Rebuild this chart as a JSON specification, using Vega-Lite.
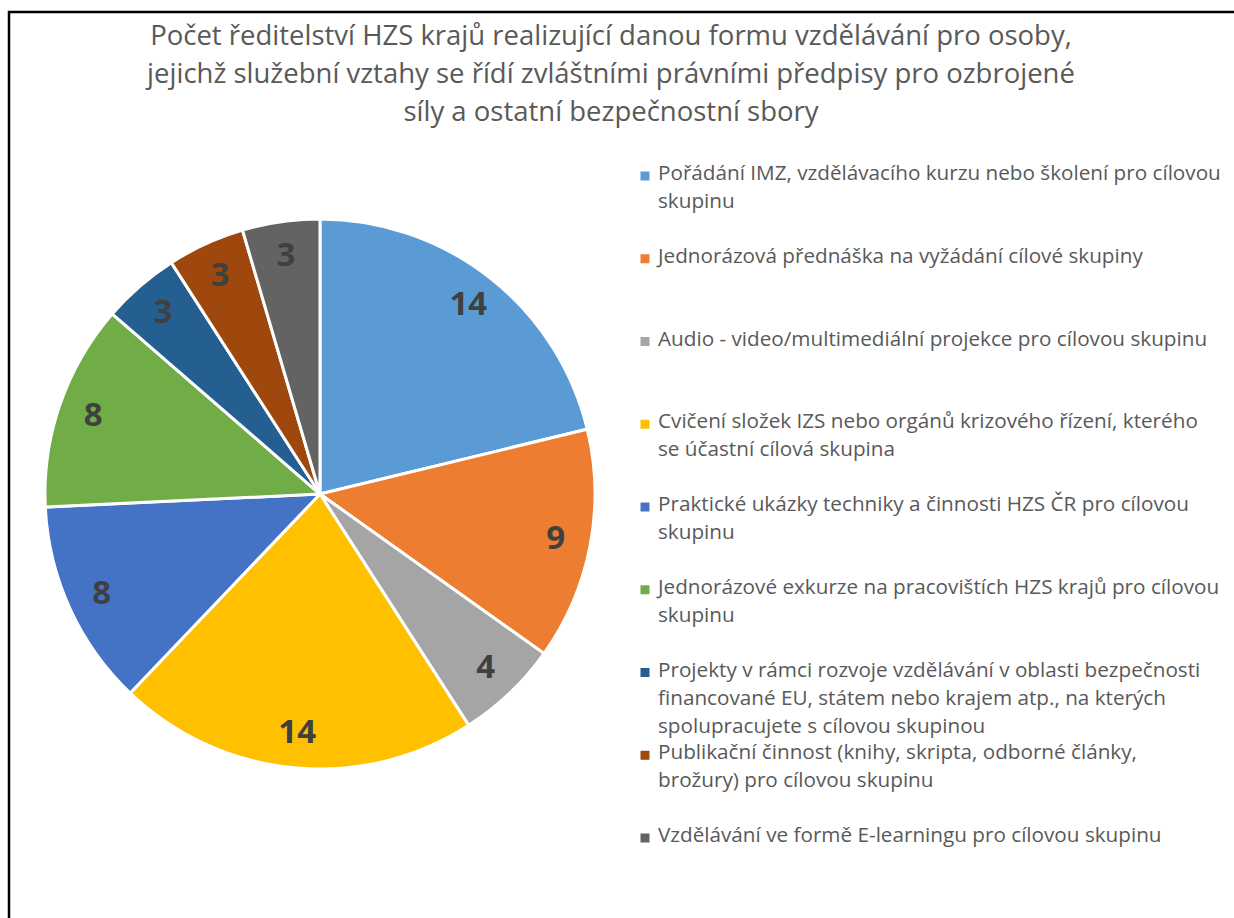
{
  "$schema": "https://vega.github.io/schema/vega-lite/v6.json",
  "width": 1240,
  "height": 910,
  "autosize": "none",
  "padding": {"left": 9, "top": 12, "right": 0, "bottom": 0},
  "background": "white",
  "config": {
    "view": {"stroke": "black", "strokeWidth": 2.5},
    "font": "Open Sans"
  },
  "title": {
    "text": [
      "Počet ředitelství HZS krajů realizující danou formu vzdělávání pro osoby,",
      "jejichž služební vztahy se řídí zvláštními právními předpisy pro ozbrojené",
      "síly a ostatní bezpečnostní sbory"
    ],
    "fontSize": 27.5,
    "fontWeight": "normal",
    "color": "#595959",
    "font": "Open Sans",
    "lineHeight": 38,
    "anchor": "middle",
    "dx": -18,
    "offset": -114
  },
  "data": {
    "values": [
      {"idx": 0, "value": 14, "label": "Pořádání IMZ, vzdělávacího kurzu nebo školení pro cílovou\nskupinu"},
      {"idx": 1, "value": 9, "label": "Jednorázová přednáška na vyžádání cílové skupiny"},
      {"idx": 2, "value": 4, "label": "Audio - video/multimediální projekce pro cílovou skupinu"},
      {"idx": 3, "value": 14, "label": "Cvičení složek IZS nebo orgánů krizového řízení, kterého\nse účastní cílová skupina"},
      {"idx": 4, "value": 8, "label": "Praktické ukázky techniky a činnosti HZS ČR pro cílovou\nskupinu"},
      {"idx": 5, "value": 8, "label": "Jednorázové exkurze na pracovištích HZS krajů pro cílovou\nskupinu"},
      {"idx": 6, "value": 3, "label": "Projekty v rámci rozvoje vzdělávání v oblasti bezpečnosti\nfinancované EU, státem nebo krajem atp., na kterých\nspolupracujete s cílovou skupinou"},
      {"idx": 7, "value": 3, "label": "Publikační činnost (knihy, skripta, odborné články,\nbrožury) pro cílovou skupinu"},
      {"idx": 8, "value": 3, "label": "Vzdělávání ve formě E-learningu pro cílovou skupinu"}
    ]
  },
  "layer": [
    {
      "mark": {"type": "arc", "outerRadius": 275, "stroke": "white", "strokeWidth": 3},
      "encoding": {
        "x": {"datum": 25.08, "type": "quantitative", "scale": {"domain": [0, 100], "nice": false, "zero": false}, "axis": null},
        "y": {"datum": 3.843, "type": "quantitative", "scale": {"domain": [-1.982, 9.015], "nice": false, "zero": false, "reverse": true}, "axis": null},
        "theta": {"field": "value", "type": "quantitative", "stack": true},
        "order": {"field": "idx", "type": "quantitative"},
        "color": {"field": "idx", "type": "nominal", "legend": null,
          "scale": {"domain": [0,1,2,3,4,5,6,7,8], "range": ["#5B9BD5","#ED7D31","#A5A5A5","#FFC000","#4472C4","#70AD47","#255E91","#9E480E","#636363"]}}
      }
    },
    {
      "mark": {"type": "text", "radius": 240, "fontSize": 33, "fontWeight": "bold", "color": "#404040", "font": "Open Sans", "align": "center", "baseline": "middle"},
      "encoding": {
        "x": {"datum": 25.08, "type": "quantitative"},
        "y": {"datum": 3.843, "type": "quantitative"},
        "theta": {"field": "value", "type": "quantitative", "stack": true},
        "order": {"field": "idx", "type": "quantitative"},
        "text": {"field": "value", "type": "quantitative"}
      }
    },
    {
      "mark": {"type": "square", "size": 81, "opacity": 1, "filled": true},
      "encoding": {
        "x": {"datum": 51.29, "type": "quantitative"},
        "y": {"field": "idx", "type": "quantitative"},
        "color": {"field": "idx", "type": "nominal", "legend": null}
      }
    },
    {
      "mark": {"type": "text", "align": "left", "baseline": "top", "dy": -12, "fontSize": 20.7, "lineHeight": 28, "lineBreak": "\n", "color": "#595959", "font": "Open Sans"},
      "encoding": {
        "x": {"datum": 52.34, "type": "quantitative"},
        "y": {"field": "idx", "type": "quantitative"},
        "text": {"field": "label", "type": "nominal"}
      }
    }
  ]
}
